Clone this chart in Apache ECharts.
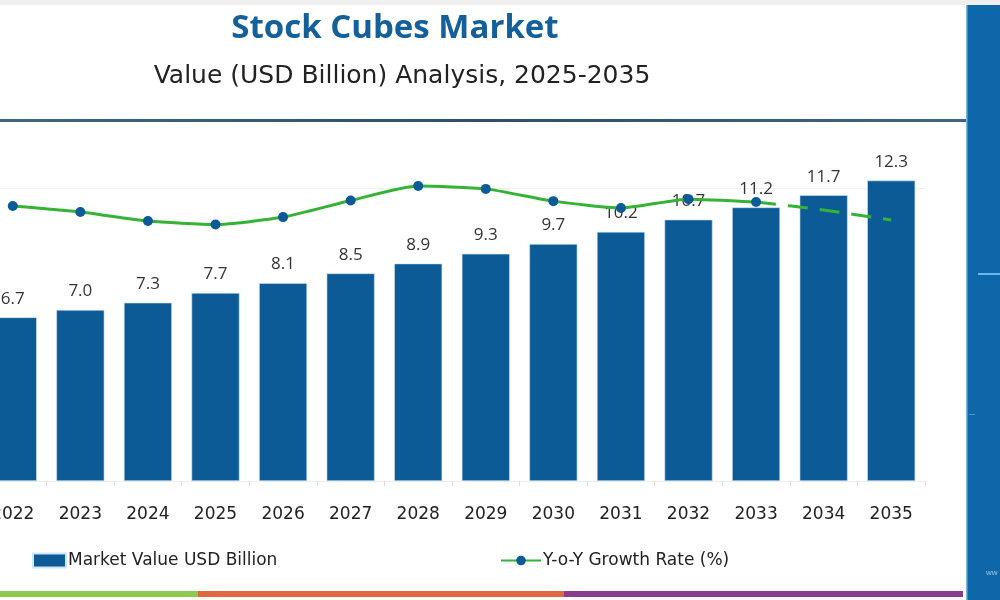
<!DOCTYPE html>
<html>
<head>
<meta charset="utf-8">
<title>Stock Cubes Market</title>
<script src="https://cdn.jsdelivr.net/npm/echarts@6/dist/echarts.min.js"></script>
<style>
  html, body { margin: 0; padding: 0; background: #fff; }
  #main { width: 1000px; height: 600px; }
</style>
</head>
<body>
<div id="main"></div>
<script>
// data
var years = ['2022', '2023', '2024', '2025', '2026', '2027', '2028', '2029', '2030', '2031', '2032', '2033', '2034', '2035'];
var marketValue = [6.7, 7.0, 7.3, 7.7, 8.1, 8.5, 8.9, 9.3, 9.7, 10.2, 10.7, 11.2, 11.7, 12.3];
var growthActual = [4.65, 4.44, 4.12, 4.0, 4.26, 4.84, 5.35, 5.25, 4.82, 4.58, 4.89, 4.79, '-', '-'];
var growthForecast = ['-', '-', '-', '-', '-', '-', '-', '-', '-', '-', '-', 4.79, 4.51, 4.16];

var barName = 'Market Value USD Billion';
var lineName = 'Y-o-Y Growth Rate (%)';

var chart = echarts.init(document.getElementById('main'));

var option = {
    backgroundColor: '#fff',
    textStyle: { fontFamily: 'DejaVu Sans' },
    title: [
        {
            text: 'Stock Cubes Market',
            left: 390, top: 7, textAlign: 'center',
            textStyle: { fontSize: 33, fontWeight: 'bold', color: '#14609a', fontFamily: 'Open Sans' }
        },
        {
            text: 'Value (USD Billion) Analysis, 2025-2035',
            left: 397, top: 59, textAlign: 'center',
            textStyle: { fontSize: 25, fontWeight: 'normal', color: '#222', fontFamily: 'DejaVu Sans' }
        }
    ],
    legend: [
        {
            data: [{ name: barName, icon: 'rect' }],
            left: 27, top: 547,
            itemWidth: 33, itemHeight: 14, itemGap: 4,
            textStyle: { fontSize: 17, color: '#222', padding: [0, 0, 0, -3] }
        },
        {
            data: [lineName],
            left: 495, top: 547,
            itemWidth: 40, itemHeight: 12,
            textStyle: { fontSize: 17, color: '#222', padding: [0, 0, 0, -3] }
        }
    ],
    grid: { left: -21, right: 75, top: 139, bottom: 119, outerBoundsMode: 'none' },
    xAxis: {
        type: 'category',
        data: years,
        axisLine: { show: true, lineStyle: { color: '#eeeeee' } },
        axisTick: { show: true, length: 5, lineStyle: { color: '#dddddd' } },
        axisLabel: { fontSize: 17, color: '#222', margin: 25 }
    },
    yAxis: [
        { type: 'value', min: 0, max: 14, show: false },
        { type: 'value', min: -5, max: 7, show: false }
    ],
    series: [
        {
            name: barName,
            type: 'bar',
            data: marketValue,
            barWidth: 48,
            itemStyle: { color: '#0c5a96', borderColor: '#cfe6f7', borderWidth: 0.6 },
            label: {
                show: true, position: 'top', distance: 10,
                fontSize: 17, color: '#333', fontFamily: 'Open Sans',
                formatter: function (p) { return p.value.toFixed(1); }
            },
            markLine: {
                silent: true, symbol: 'none', label: { show: false },
                lineStyle: { color: '#f0f0f0', type: 'solid', width: 1 },
                data: [{ yAxis: 12 }],
                z: 0
            },
            z: 2
        },
        {
            name: lineName,
            type: 'line',
            yAxisIndex: 1,
            data: growthActual,
            smooth: 0.2,
            symbol: 'circle',
            symbolSize: 10,
            itemStyle: { color: '#0c5a96' },
            lineStyle: { color: '#36b336', width: 3 },
            z: 5
        },
        {
            name: lineName,
            type: 'line',
            yAxisIndex: 1,
            data: growthForecast,
            smooth: 0.2,
            showSymbol: false,
            symbol: 'none',
            lineStyle: { color: '#36b336', width: 3, type: [20, 12] },
            z: 4
        }
    ],
    graphic: [
        { type: 'rect', shape: { x: 0, y: 0, width: 1000, height: 5 }, style: { fill: '#efefef' }, silent: true },
        {
            type: 'rect', shape: { x: 0, y: 119, width: 966, height: 3 }, silent: true,
            style: {
                fill: new echarts.graphic.LinearGradient(0, 0, 1, 0, [
                    { offset: 0, color: '#3f6585' },
                    { offset: 0.5, color: '#2f4f6c' },
                    { offset: 1, color: '#3f6585' }
                ])
            }
        },
        { type: 'rect', shape: { x: 966, y: 5, width: 34, height: 595 }, style: { fill: '#0d67a8' }, silent: true },
        { type: 'rect', shape: { x: 966, y: 5, width: 1.5, height: 595 }, style: { fill: '#7fb6de' }, silent: true },
        { type: 'rect', shape: { x: 978, y: 273, width: 22, height: 2 }, style: { fill: '#6cb7ea' }, silent: true },
        { type: 'rect', shape: { x: 969, y: 414, width: 6, height: 1 }, style: { fill: '#4f94c9' }, silent: true },
        { type: 'text', x: 986, y: 569, style: { text: 'ww', fontSize: 8, fill: '#9cc8ea' }, silent: true },
        { type: 'rect', shape: { x: 0, y: 591, width: 198, height: 6 }, style: { fill: '#8dc84f' }, silent: true },
        { type: 'rect', shape: { x: 198, y: 591, width: 366, height: 6 }, style: { fill: '#e0683c' }, silent: true },
        { type: 'rect', shape: { x: 564, y: 591, width: 399, height: 6 }, style: { fill: '#8c3b8e' }, silent: true }
    ]
};

chart.setOption(option);
</script>
</body>
</html>
